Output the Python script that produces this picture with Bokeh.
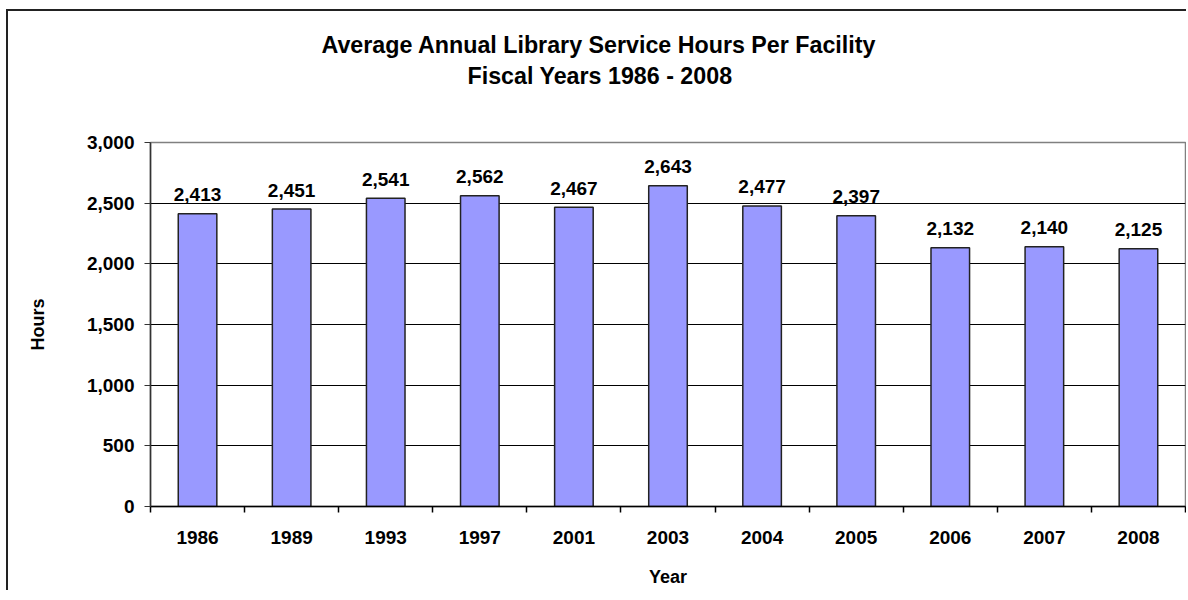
from bokeh.plotting import figure
from bokeh.models import (Range1d, FixedTicker, NumeralTickFormatter, Title,
                          ColumnDataSource)
from bokeh.core.properties import value
from bokeh.embed import file_html
from bokeh.resources import INLINE

# ---- data ----
years = ["1986", "1989", "1993", "1997", "2001", "2003", "2004", "2005", "2006", "2007", "2008"]
hours = [2413, 2451, 2541, 2562, 2467, 2643, 2477, 2397, 2132, 2140, 2125]
y_ticks = [0, 500, 1000, 1500, 2000, 2500, 3000]
title_line1 = "Average Annual Library Service Hours Per  Facility"
title_line2 = "Fiscal Years 1986 - 2008"

FONT = "Liberation Sans"
n = len(years)
xs = [i + 0.5 for i in range(n)]
labels = [f"{v:,}" for v in hours]
src = ColumnDataSource(dict(x=xs, top=hours, label=labels))

p = figure(width=1180, height=581, output_backend="svg", toolbar_location=None,
           x_range=Range1d(0, n), y_range=Range1d(0, 3000),
           min_border_left=142, min_border_right=3, min_border_top=0,
           min_border_bottom=86, title=None)
p.styles = {"margin-left": "6px", "margin-top": "9px",
            "border-left": "2px solid #222222", "border-top": "2px solid #222222"}
p.background_fill_color = "white"
p.border_fill_color = "white"
p.outline_line_color = "#808080"
p.outline_line_width = 1.5

# bars
p.vbar(x="x", top="top", width=0.41, source=src, fill_color="#9999FF",
       line_color="#222222", line_width=1.5)

# data labels
p.text(x="x", y="top", text="label", source=src, text_align="center",
       text_baseline="alphabetic", y_offset=-19,
       text_font=value(FONT), text_font_style="bold", text_font_size="19px",
       text_color="black")

# y axis
ya = p.yaxis[0]
ya.ticker = FixedTicker(ticks=y_ticks)
ya.formatter = NumeralTickFormatter(format="0,0")
ya.major_tick_out = 6
ya.major_tick_in = 0
ya.minor_tick_line_color = None
ya.axis_line_color = "#333333"
ya.axis_line_width = 1.5
ya.major_tick_line_color = "#333333"
ya.major_label_text_font = FONT
ya.major_label_text_font_style = "bold"
ya.major_label_text_font_size = "19px"
ya.major_label_text_color = "black"
ya.major_label_standoff = 10
ya.axis_label = "Hours"
ya.axis_label_text_font = FONT
ya.axis_label_text_font_style = "bold"
ya.axis_label_text_font_size = "18px"
ya.axis_label_text_color = "black"
ya.axis_label_standoff = 36

# x axis
xa = p.xaxis[0]
xa.ticker = FixedTicker(ticks=xs, minor_ticks=list(range(n + 1)))
xa.major_label_overrides = {x: y for x, y in zip(xs, years)}
xa.major_tick_line_color = None
xa.major_tick_out = 0
xa.major_tick_in = 0
xa.minor_tick_out = 6
xa.minor_tick_in = 0
xa.minor_tick_line_color = "black"
xa.minor_tick_line_width = 1.5
xa.axis_line_color = "black"
xa.axis_line_width = 1.5
xa.major_label_text_font = FONT
xa.major_label_text_font_style = "bold"
xa.major_label_text_font_size = "19px"
xa.major_label_text_color = "black"
xa.major_label_standoff = 18
xa.axis_label = "Year"
xa.axis_label_text_font = FONT
xa.axis_label_text_font_style = "bold"
xa.axis_label_text_font_size = "18px"
xa.axis_label_text_color = "black"
xa.axis_label_standoff = 20

# grid
p.xgrid.visible = False
p.ygrid.ticker = FixedTicker(ticks=y_ticks[1:-1])
p.ygrid.grid_line_color = "black"
p.ygrid.grid_line_width = 1

# titles: first added sits nearest to the frame
def title(text, size, standoff, offset=0):
    return Title(text=text, align="left", offset=offset, vertical_align="bottom",
                 text_font=FONT, text_font_style="bold", text_font_size=size,
                 text_color="black", standoff=standoff)

p.add_layout(title(" ", "1px", 48), "above")          # gap below titles
p.add_layout(title(title_line2, "23.25px", 6, 317), "above")
p.add_layout(title(title_line1, "23.25px", 0, 171), "above")
p.add_layout(title(" ", "1px", 15), "above")          # gap above titles

open("out.html", "w").write(file_html(p, INLINE))
